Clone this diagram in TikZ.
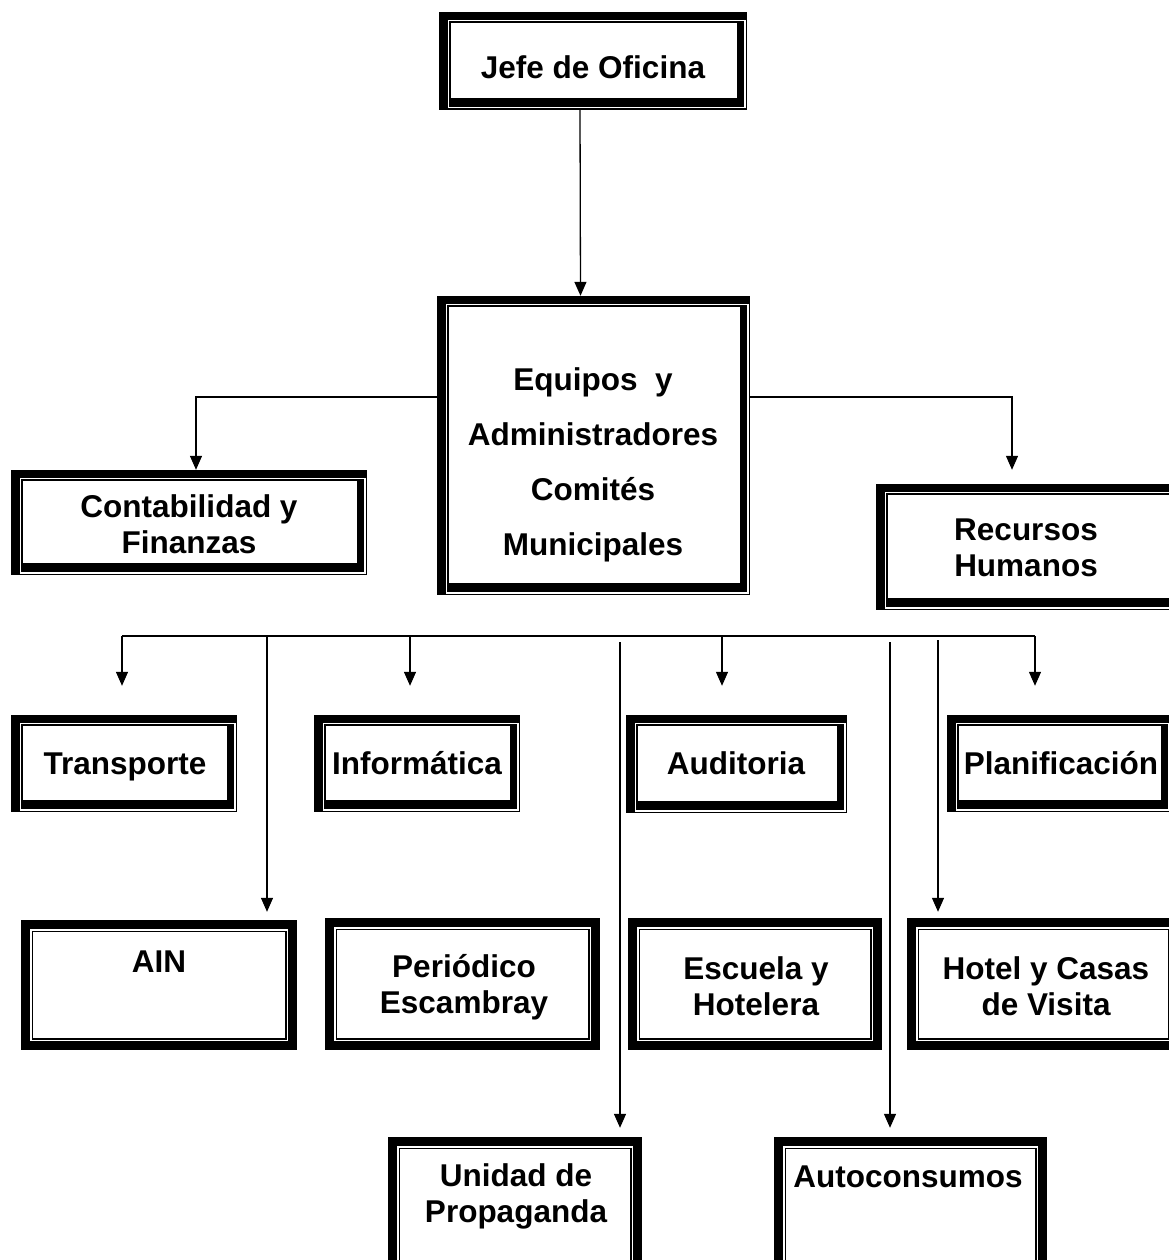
\documentclass[tikz,border=0pt]{standalone}
\usepackage{fontspec}
\setmainfont{Liberation Sans}
\usetikzlibrary{arrows.meta,calc}
\tikzset{
  boxA/.style={rectangle, inner sep=0pt, minimum width=#1,
    path picture={
      \fill[black] (path picture bounding box.south west) rectangle (path picture bounding box.north east);
      \draw[white,line width=1.5pt] ([shift={(9.5pt,-8.5pt)}]path picture bounding box.north west) rectangle ([shift={(-2.25pt,2.25pt)}]path picture bounding box.south east);
      \fill[white] ([shift={(12pt,-11pt)}]path picture bounding box.north west) rectangle ([shift={(-10pt,12pt)}]path picture bounding box.south east);
    }},
  boxB/.style={rectangle, inner sep=0pt, minimum width=#1,
    path picture={
      \fill[black] (path picture bounding box.south west) rectangle (path picture bounding box.north east);
      \draw[white,line width=1.5pt] ([shift={(9.75pt,-9.75pt)}]path picture bounding box.north west) rectangle ([shift={(-9.75pt,9.75pt)}]path picture bounding box.south east);
      \fill[white] ([shift={(12pt,-12pt)}]path picture bounding box.north west) rectangle ([shift={(-12pt,12pt)}]path picture bounding box.south east);
    }},
  txt/.style={font=\fontsize{31.5}{36}\selectfont\bfseries, align=center, inner sep=0pt},
  conn/.style={line width=1.3pt},
  arr/.style={conn, -{Triangle[width=12pt,length=14pt]}}
}
\begin{document}
\begin{tikzpicture}[x=1pt,y=-1pt]
\useasboundingbox (0,0) rectangle (1168,1260);
% boxes
\node[boxA=308pt, minimum height=98pt] (jefe) at (593,61) {};
\node[boxA=313pt, minimum height=299pt] (equipos) at (593.5,445.5) {};
\node[boxA=356pt, minimum height=105pt] (contab) at (189,522.5) {};
\node[boxA=304pt, minimum height=126pt] (recursos) at (1028,547) {};
\node[boxA=226pt, minimum height=97pt] (transp) at (124,763.5) {};
\node[boxA=206pt, minimum height=97pt] (inform) at (417,763.5) {};
\node[boxA=221pt, minimum height=98pt] (audit) at (736.5,764) {};
\node[boxA=224pt, minimum height=97pt] (planif) at (1059,763.5) {};
\node[boxB=276pt, minimum height=130pt] (ain) at (159,985) {};
\node[boxB=275pt, minimum height=132pt] (periodico) at (462.5,984) {};
\node[boxB=254pt, minimum height=132pt] (escuela) at (755,984) {};
\node[boxB=273pt, minimum height=132pt] (hotel) at (1043.5,984) {};
\node[boxB=254pt, minimum height=153pt] (unidad) at (515,1213.5) {};
\node[boxB=273pt, minimum height=153pt] (autocons) at (910.5,1213.5) {};
% texts
\node[txt] (jefe-t) at (593,67) {Jefe de Oficina};
\node[txt] (equipos-t) at (593,465) {Equipos~ y\\[19pt]Administradores\\[19pt]Comités\\[19pt]Municipales};
\node[txt] (contab-t) at (189,524) {Contabilidad y\\Finanzas};
\node[txt] (recursos-t) at (1026,548) {Recursos\\Humanos};
\node[txt] (transp-t) at (125,767) {Transporte};
\node[txt] (inform-t) at (417,763) {Informática};
\node[txt] (audit-t) at (736,763) {Auditoria};
\node[txt] (planif-t) at (1061,763) {Planificación};
\node[txt] (ain-t) at (159,962) {AIN};
\node[txt] (periodico-t) at (464,987) {Periódico\\Escambray};
\node[txt] (escuela-t) at (756,986) {Escuela y\\Hotelera};
\node[txt] (hotel-t) at (1046,986) {Hotel y Casas\\de Visita};
\node[txt] (unidad-t) at (516,1196) {Unidad de\\Propaganda};
\node[txt] (autocons-t) at (908,1177) {Autoconsumos};
% connectors
\draw[arr] ([xshift=-13pt]jefe.south) -- ([xshift=-13pt]equipos.north);
\draw[arr] ([yshift=48.5pt]equipos.west) -| ([xshift=7pt]contab.north);
\draw[arr, shorten >=14pt] ([yshift=48.5pt]equipos.east) -| ([xshift=-16pt]recursos.north);
\coordinate (busL) at (122,636);
\coordinate (busR) at (1035,636);
\coordinate (b267) at (267,636);
\coordinate (b410) at (410,636);
\coordinate (b620) at (620,642);
\coordinate (b722) at (722,636);
\coordinate (b890) at (890,642);
\coordinate (b938) at (938,640);
\draw[conn] (busL) -- (busR);
\draw[arr, shorten >=29pt] (busL) -- (busL |- transp.north);
\draw[arr, shorten >=29pt] (b410) -- (b410 |- inform.north);
\draw[arr, shorten >=29pt] (b722) -- (b722 |- audit.north);
\draw[arr, shorten >=29pt] (busR) -- (busR |- planif.north);
\draw[arr, shorten >=8pt] (b267) -- (b267 |- ain.north);
\draw[arr, shorten >=9pt] (b620) -- (b620 |- unidad.north);
\draw[arr, shorten >=9pt] (b890) -- (b890 |- autocons.north);
\draw[arr, shorten >=6pt] (b938) -- (b938 |- hotel.north);
\end{tikzpicture}
\end{document}
